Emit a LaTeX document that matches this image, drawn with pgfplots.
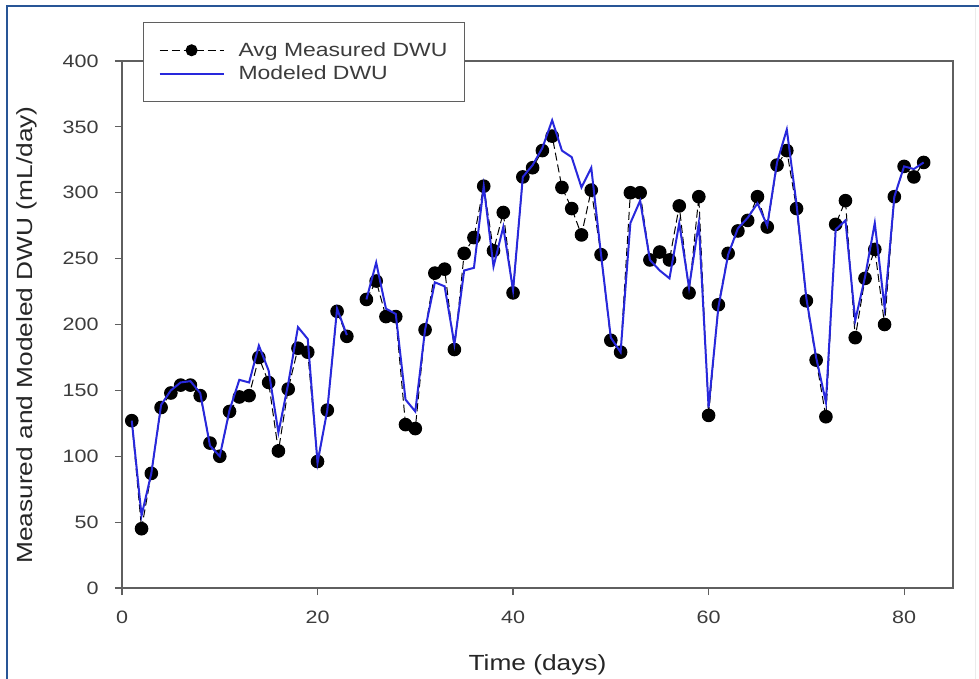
\documentclass[border=0pt]{standalone}
\usepackage{fontspec}
\setmainfont{Liberation Sans}[FakeStretch=1.2]
\usepackage{pgfplots}
\usepackage{pgfplotstable}
\pgfplotsset{compat=1.18}
\definecolor{modblue}{RGB}{40,40,220}
\definecolor{axgray}{RGB}{95,95,95}
\definecolor{txtgray}{RGB}{60,60,60}
\definecolor{framblue}{RGB}{40,85,150}

\pgfplotsset{
  measleg/.style={legend image code/.code={\draw[##1, mark size=5.5bp, mark repeat=2, mark phase=2] plot coordinates {(0bp,0bp) (32bp,0bp) (64bp,0bp)};}},
  modleg/.style={legend image code/.code={\draw[##1] (0bp,0bp) -- (64bp,0bp);}},
}

\pgfplotstableread{
day meas model
1 127 127
2 45 55
3 87 87
4 137 139
5 148 150
6 154 156
7 154 157
8 146 148
9 110 108
10 100 100
11 134 135
12 145 158
13 146 156
14 175 184
15 156 165
16 104 118
17 151 155
18 182 198
19 179 189
20 96 95
21 135 135
22 210 212
23 191 192
24 nan nan
25 219 219
26 233 247
27 206 212
28 206 208
29 124 143
30 121 134
31 196 196
32 239 232
33 242 229
34 181 185
35 254 241
36 266 243
37 305 305
38 256 244
39 285 274
40 224 226
41 312 312
42 319 321
43 332 334
44 343 355
45 304 332
46 288 327
47 268 304
48 302 319
49 253 253
50 188 190
51 179 179
52 300 277
53 300 294
54 249 249
55 255 241
56 249 235
57 290 277
58 224 228
59 297 277
60 131 137
61 215 213
62 254 253
63 271 273
64 279 281
65 297 292
66 274 275
67 321 323
68 332 348
69 288 291
70 218 220
71 173 175
72 130 141
73 276 272
74 294 279
75 190 203
76 235 236
77 257 277
78 200 213
79 297 297
80 320 320
81 312 318
82 323 323
}\dwu

\begin{document}
\begin{tikzpicture}
\path[use as bounding box] (-122bp,-91bp) rectangle (857bp,588bp);
\fill[white] (-122bp,-91bp) rectangle (857bp,588bp);
\draw[framblue, line width=2bp] (-115bp,-91bp) -- (-115bp,582bp) -- (857bp,582bp);
\draw[black!8, line width=1bp] (853bp,580bp) -- (853bp,-91bp);
\begin{axis}[
  at={(0bp,0bp)}, anchor=south west,
  scale only axis,
  width=831bp, height=527bp,
  xmin=0, xmax=85, ymin=0, ymax=400,
  xtick={0,20,40,60,80},
  ytick={0,50,...,400},
  tick align=outside,
  xtick pos=bottom, ytick pos=left,
  major tick length=7bp,
  clip mode=individual,
  axis line style={axgray, line width=1.5bp},
  every tick/.style={axgray, line width=1.2bp},
  /pgf/number format/assume math mode=true,
  tick label style={font=\fontsize{18}{20}\selectfont, text=txtgray},
  yticklabel style={xshift=-13bp},
  xticklabel style={yshift=-12bp},
  unbounded coords=jump,
  xlabel={Time (days)},
  ylabel={Measured and Modeled DWU (mL/day)},
  label style={font=\fontsize{22}{24}\selectfont, text=black!85},
  xlabel style={at={(axis description cs:0.5,-0.1556)}, anchor=base},
  ylabel style={at={(axis description cs:-0.1143,0.48)}, anchor=center},
  legend style={
    at={(axis description cs:0.02527,1.0740)}, anchor=north west,
    draw=axgray, line width=1.2bp, fill=white,
    font=\fontsize{19.2}{20}\selectfont, text=txtgray,
    inner xsep=15bp, inner ysep=18bp,
    row sep=4bp,
    cells={anchor=west},
    /tikz/every odd column/.append style={column sep=12bp},
  },
  legend cell align=left,
]
\addplot[black, line width=1bp, dash pattern=on 8bp off 4bp,
  mark=*, mark size=6.3bp, mark options={solid, fill=black}, measleg]
  table[x=day, y=meas] {\dwu};
\addlegendentry{Avg Measured DWU}
\addplot[modblue, line width=2bp, mark=none, modleg]
  table[x=day, y=model] {\dwu};
\addlegendentry{Modeled DWU}
\end{axis}
\end{tikzpicture}
\end{document}
